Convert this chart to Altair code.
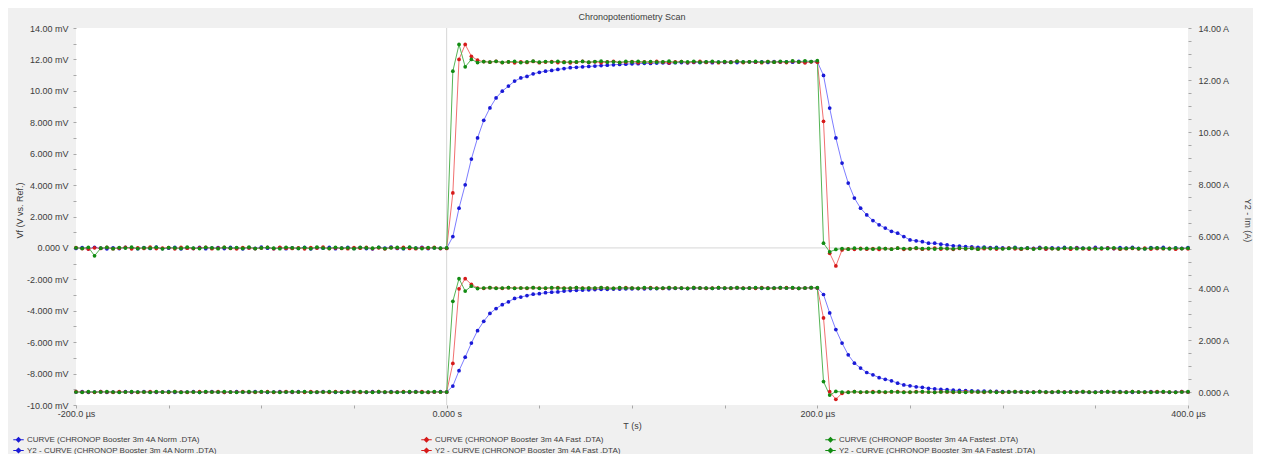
import altair as alt
import pandas as pd

# ---------------- data ----------------
T_START = -200.0          # first sample, µs
T_STEP = 10.0 / 3.0       # sampling interval, µs (181 samples to 400 µs)

SERIES = [
    "CURVE (CHRONOP Booster 3m 4A Norm .DTA)",
    "CURVE (CHRONOP Booster 3m 4A Fast .DTA)",
    "CURVE (CHRONOP Booster 3m 4A Fastest .DTA)",
    "Y2 - CURVE (CHRONOP Booster 3m 4A Norm .DTA)",
    "Y2 - CURVE (CHRONOP Booster 3m 4A Fast .DTA)",
    "Y2 - CURVE (CHRONOP Booster 3m 4A Fastest .DTA)",
]
LINE_KEYS = ["vn", "vf", "vx", "in", "if", "ix"]
POINT_COLORS = ["#1a1ad6", "#d61a1a", "#138c13", "#1a1ad6", "#d61a1a", "#138c13"]
LINE_COLORS = ["#7d7dff", "#f27070", "#55b455", "#7d7dff", "#f27070", "#55b455"]

# Vf in mV
V_NORM = [
    -0.03, 0.02, -0.05, 0.04, -0.02, -0.06, 0.01, -0.04, 0.03, -0.01,
    -0.05, 0.02, -0.03, 0.05, -0.04, -0.02, 0.03, -0.06, 0.00, -0.03,
    0.04, -0.05, -0.01, 0.02, -0.04, 0.03, -0.02, -0.06, 0.01, -0.03,
    0.05, -0.02, -0.04, 0.02, -0.05, 0.00, -0.03, 0.04, -0.06, 0.01,
    -0.02, 0.03, -0.05, -0.01, 0.04, -0.03, 0.02, -0.04, -0.06, 0.03,
    -0.01, 0.05, -0.03, -0.05, 0.02, -0.02, 0.04, -0.04, 0.01, -0.03,
    -0.02,
    0.72, 2.53, 4.02, 5.66, 7.00, 8.12, 8.91, 9.55, 9.98, 10.30,
    10.62, 10.82, 10.92, 11.08, 11.18, 11.25, 11.30, 11.36, 11.42, 11.47,
    11.50, 11.53, 11.55, 11.58, 11.61, 11.63, 11.66, 11.68, 11.70, 11.72,
    11.73, 11.75, 11.74, 11.77, 11.78, 11.76, 11.79, 11.80, 11.78, 11.81,
    11.80, 11.82, 11.79, 11.83, 11.81, 11.84, 11.80, 11.83, 11.85, 11.82,
    11.84, 11.81, 11.86, 11.83, 11.85, 11.82, 11.87, 11.84, 11.86, 11.85,
    10.98, 8.90, 7.00, 5.40, 4.13, 3.17, 2.53, 2.10, 1.74, 1.47,
    1.26, 1.06, 0.94, 0.72, 0.51, 0.45, 0.40, 0.30, 0.30, 0.24,
    0.19, 0.13, 0.12, 0.08, 0.06, 0.04, 0.05, 0.02, 0.03, 0.00,
    -0.02, 0.03, -0.04, 0.01, -0.03, 0.04, -0.05, 0.00, -0.02, 0.03,
    -0.04, 0.02, -0.01, -0.05, 0.03, -0.03, 0.01, -0.04, 0.02, -0.02,
    0.04, -0.03, -0.05, 0.02, -0.01, 0.03, -0.04, 0.00, -0.03, 0.02,
]
V_FAST = [
    0.02, -0.04, -0.07, 0.01, -0.03, 0.03, -0.05, -0.02, 0.04, -0.06,
    0.00, -0.03, 0.05, -0.04, -0.01, 0.02, -0.06, 0.03, -0.02, -0.04,
    0.01, 0.04, -0.05, -0.02, 0.03, -0.03, -0.06, 0.02, 0.00, -0.04,
    -0.01, 0.03, -0.05, 0.04, -0.02, -0.03, 0.01, -0.06, 0.02, -0.01,
    0.05, -0.04, 0.00, -0.03, -0.05, 0.02, -0.02, 0.03, -0.04, 0.01,
    -0.06, 0.02, -0.01, 0.04, -0.03, -0.05, 0.01, -0.02, 0.03, -0.04,
    -0.03,
    3.50, 12.00, 12.95, 12.20, 11.95, 11.86, 11.82, 11.88, 11.80, 11.84,
    11.78, 11.85, 11.81, 11.87, 11.79, 11.83, 11.86, 11.80, 11.84, 11.78,
    11.82, 11.87, 11.81, 11.85, 11.79, 11.84, 11.88, 11.80, 11.83, 11.86,
    11.79, 11.85, 11.81, 11.87, 11.82, 11.78, 11.84, 11.86, 11.80, 11.83,
    11.87, 11.81, 11.85, 11.79, 11.84, 11.82, 11.88, 11.80, 11.85, 11.83,
    11.79, 11.86, 11.82, 11.84, 11.80, 11.87, 11.83, 11.78, 11.85, 11.82,
    8.06, -0.34, -1.15, -0.13, -0.06, -0.09, -0.03, -0.08, -0.05, -0.10,
    -0.04, -0.07, -0.02, -0.09, -0.05, -0.03, -0.08, -0.06, -0.01, -0.07,
    -0.04, -0.09, -0.03, -0.06, -0.02, -0.08, -0.05, -0.03, -0.07, -0.04,
    -0.01, -0.06, -0.08, -0.03, -0.05, -0.02, -0.07, -0.04, -0.06, -0.03,
    -0.08, -0.02, -0.05, -0.07, -0.03, -0.06, -0.01, -0.04, -0.08, -0.05,
    -0.03, -0.06, -0.02, -0.07, -0.04, -0.05, -0.03, -0.08, -0.04, -0.06,
]
V_FASTEST = [
    0.01, -0.03, 0.04, -0.50, -0.02, 0.03, -0.05, 0.02, -0.01, 0.05,
    -0.04, 0.01, -0.02, 0.04, -0.06, 0.02, 0.00, -0.03, 0.05, -0.01,
    -0.04, 0.03, 0.01, -0.05, 0.04, -0.02, 0.02, -0.03, 0.05, -0.04,
    0.00, 0.03, -0.02, -0.05, 0.04, 0.01, -0.03, 0.02, -0.04, 0.05,
    -0.01, -0.03, 0.04, -0.02, 0.01, -0.05, 0.03, 0.00, -0.02, 0.04,
    -0.04, 0.01, 0.03, -0.03, 0.05, -0.01, -0.04, 0.02, 0.00, -0.02,
    0.00,
    11.25, 12.95, 11.53, 12.00, 11.80, 11.86, 11.83, 11.88, 11.81, 11.85,
    11.87, 11.80, 11.84, 11.89, 11.82, 11.86, 11.83, 11.88, 11.81, 11.85,
    11.84, 11.87, 11.82, 11.86, 11.89, 11.83, 11.85, 11.81, 11.87, 11.84,
    11.88, 11.82, 11.86, 11.83, 11.85, 11.89, 11.81, 11.86, 11.84, 11.88,
    11.82, 11.85, 11.87, 11.83, 11.86, 11.81, 11.88, 11.84, 11.85, 11.87,
    11.83, 11.86, 11.82, 11.88, 11.85, 11.90, 11.84, 11.91, 11.86, 11.92,
    0.30, -0.25, -0.10, -0.04, -0.08, -0.02, -0.06, -0.03, -0.07, -0.01,
    -0.05, -0.08, -0.02, -0.04, -0.06, 0.00, -0.05, -0.03, -0.07, -0.02,
    -0.04, -0.06, -0.01, -0.05, -0.03, -0.08, 0.01, -0.04, -0.02, -0.06,
    -0.03, 0.00, -0.05, -0.02, -0.07, -0.03, 0.01, -0.04, -0.06, -0.02,
    0.00, -0.05, -0.03, -0.01, -0.06, -0.02, -0.04, 0.01, -0.05, -0.03,
    -0.01, -0.04, -0.06, -0.02, 0.00, -0.03, -0.05, -0.01, -0.04, -0.02,
]

# Im in A
I_NORM = [
    0.00, 0.01, -0.01, 0.00, 0.01, -0.01, 0.00, 0.00, 0.01, -0.01,
    0.00, 0.01, 0.00, -0.01, 0.00, 0.01, -0.01, 0.00, 0.00, 0.01,
    -0.01, 0.00, 0.01, 0.00, -0.01, 0.00, 0.01, 0.00, -0.01, 0.01,
    0.00, -0.01, 0.00, 0.01, 0.00, -0.01, 0.01, 0.00, 0.00, -0.01,
    0.01, 0.00, -0.01, 0.00, 0.01, 0.00, 0.00, -0.01, 0.01, 0.00,
    -0.01, 0.01, 0.00, 0.00, -0.01, 0.01, 0.00, -0.01, 0.00, 0.01,
    0.00,
    0.23, 0.82, 1.34, 1.88, 2.36, 2.72, 3.02, 3.21, 3.36, 3.47,
    3.60, 3.65, 3.71, 3.76, 3.78, 3.82, 3.84, 3.85, 3.88, 3.90,
    3.91, 3.92, 3.93, 3.94, 3.95, 3.95, 3.96, 3.96, 3.97, 3.97,
    3.98, 3.97, 3.98, 3.98, 3.99, 3.98, 3.99, 3.99, 3.98, 3.99,
    4.00, 3.99, 3.99, 4.00, 3.99, 4.00, 4.00, 3.99, 4.00, 4.00,
    3.99, 4.00, 4.00, 4.01, 4.00, 4.00, 3.99, 4.00, 4.01, 4.00,
    3.75, 3.04, 2.40, 1.88, 1.43, 1.11, 0.92, 0.75, 0.66, 0.55,
    0.49, 0.43, 0.34, 0.27, 0.24, 0.20, 0.18, 0.14, 0.12, 0.10,
    0.09, 0.07, 0.06, 0.05, 0.04, 0.03, 0.03, 0.02, 0.02, 0.01,
    0.01, 0.00, 0.01, 0.00, 0.00, 0.01, 0.00, -0.01, 0.00, 0.00,
    0.01, 0.00, 0.00, -0.01, 0.00, 0.01, 0.00, 0.00, 0.01, 0.00,
    -0.01, 0.00, 0.00, 0.01, 0.00, 0.00, -0.01, 0.00, 0.01, 0.00,
]
I_FAST = [
    0.01, 0.00, 0.00, -0.01, 0.01, 0.00, -0.01, 0.01, 0.00, 0.00,
    -0.01, 0.00, 0.01, 0.00, 0.00, -0.01, 0.01, 0.00, -0.01, 0.00,
    0.01, 0.00, 0.00, 0.01, -0.01, 0.00, 0.00, 0.01, 0.00, -0.01,
    0.00, 0.01, -0.01, 0.00, 0.01, 0.00, 0.00, -0.01, 0.01, 0.00,
    0.00, -0.01, 0.01, 0.00, 0.00, 0.01, -0.01, 0.00, 0.00, 0.01,
    0.00, -0.01, 0.00, 0.01, 0.00, 0.00, 0.01, -0.01, 0.00, 0.00,
    0.00,
    1.10, 3.97, 4.36, 4.14, 4.00, 3.99, 4.01, 4.00, 3.99, 4.01,
    4.00, 4.00, 3.99, 4.01, 4.00, 3.99, 4.00, 4.01, 4.00, 3.99,
    4.01, 4.00, 4.00, 3.99, 4.01, 4.00, 3.99, 4.00, 4.01, 4.00,
    3.99, 4.00, 4.01, 4.00, 3.99, 4.01, 4.00, 4.00, 3.99, 4.01,
    4.00, 3.99, 4.00, 4.01, 4.00, 3.99, 4.01, 4.00, 4.00, 3.99,
    4.01, 4.00, 3.99, 4.00, 4.01, 4.00, 3.99, 4.00, 4.01, 4.00,
    2.85, 0.01, -0.28, -0.05, 0.00, 0.01, -0.01, 0.00, 0.01, 0.00,
    -0.01, 0.00, 0.01, 0.00, -0.01, 0.01, 0.00, 0.00, -0.01, 0.01,
    0.00, -0.01, 0.00, 0.01, 0.00, 0.00, -0.01, 0.01, 0.00, -0.01,
    0.00, 0.01, 0.00, -0.01, 0.00, 0.01, -0.01, 0.00, 0.01, 0.00,
    0.00, -0.01, 0.01, 0.00, -0.01, 0.00, 0.01, 0.00, -0.01, 0.00,
    0.01, 0.00, -0.01, 0.00, 0.01, 0.00, 0.00, -0.01, 0.01, 0.00,
]
I_FASTEST = [
    0.00, -0.01, 0.01, 0.00, 0.00, 0.01, 0.00, -0.01, 0.00, 0.01,
    0.00, 0.00, -0.01, 0.01, 0.00, 0.00, 0.01, -0.01, 0.00, 0.00,
    -0.01, 0.01, 0.00, 0.00, 0.01, 0.00, -0.01, 0.00, 0.01, 0.00,
    0.01, 0.00, 0.00, -0.01, 0.00, 0.01, 0.00, 0.01, -0.01, 0.00,
    0.00, 0.01, 0.00, -0.01, 0.00, 0.00, 0.01, 0.00, -0.01, 0.01,
    0.00, 0.00, -0.01, 0.00, 0.01, 0.00, -0.01, 0.00, 0.01, 0.00,
    0.00,
    3.49, 4.36, 3.88, 4.07, 3.98, 4.00, 4.01, 3.99, 4.00, 4.01,
    3.99, 4.00, 4.00, 4.01, 3.99, 4.00, 4.01, 4.00, 3.99, 4.00,
    4.01, 3.99, 4.00, 4.00, 4.01, 4.00, 3.99, 4.01, 4.00, 4.00,
    3.99, 4.01, 4.00, 3.99, 4.00, 4.01, 4.00, 4.00, 3.99, 4.01,
    4.00, 4.00, 3.99, 4.01, 4.00, 4.00, 4.01, 3.99, 4.00, 4.01,
    4.00, 3.99, 4.00, 4.01, 4.00, 4.01, 3.99, 4.00, 4.01, 4.01,
    0.40, -0.12, 0.02, 0.00, -0.01, 0.01, 0.00, 0.00, -0.01, 0.01,
    0.00, 0.01, 0.00, -0.01, 0.00, 0.00, 0.01, 0.00, -0.01, 0.00,
    0.01, 0.00, 0.00, -0.01, 0.01, 0.00, 0.00, 0.01, -0.01, 0.00,
    0.00, 0.01, 0.00, 0.00, -0.01, 0.01, 0.00, 0.00, 0.01, -0.01,
    0.00, 0.00, 0.01, 0.00, -0.01, 0.00, 0.01, 0.00, 0.00, -0.01,
    0.01, 0.00, 0.00, -0.01, 0.00, 0.01, 0.00, -0.01, 0.00, 0.01,
]

ZERO = [0.0]
X_TICKS = [-200, -150, -100, -50, 0, 50, 100, 150, 200, 250, 300, 350, 400]
LEFT_TICKS = [-10, -9, -8, -7, -6, -5, -4, -3, -2, -1, 0, 1, 2, 3, 4, 5, 6, 7,
              8, 9, 10, 11, 12, 13, 14]
RIGHT_TICKS = [0, 0.5, 1, 1.5, 2, 2.5, 3, 3.5, 4, 4.5, 5, 5.5, 6, 6.5, 7, 7.5,
               8, 8.5, 9, 9.5, 10, 10.5, 11, 11.5, 12, 12.5, 13, 13.5, 14]

# ---------------- table ----------------
rows = []
for name, key, vals, kind in zip(SERIES, LINE_KEYS,
                                 [V_NORM, V_FAST, V_FASTEST, I_NORM, I_FAST, I_FASTEST],
                                 ["V", "V", "V", "I", "I", "I"]):
    for i, v in enumerate(vals):
        rows.append({"t": T_START + i * T_STEP, "value": v, "series": name,
                     "key": key, "kind": kind})
df = pd.DataFrame(rows)
v_df = df[df["kind"] == "V"]
i_df = df[df["kind"] == "I"]
zero_df = pd.DataFrame({"z": ZERO})

FONT = "Liberation Sans"
TXT = "#3c3c3c"

x_scale = alt.Scale(domain=[-200, 400], nice=False, zero=False)
x_axis = alt.Axis(
    values=X_TICKS, title="T (s)", labelOverlap=False, labelFlush=False,
    labelPadding=1,
    labelExpr="datum.value == 0 ? '0.000 s' : (datum.value % 200 == 0 ? "
              "(datum.value < 0 ? '-' : '') + format(abs(datum.value), '.1f') + ' µs' : '')",
    titleX=556, titleY=20, titleBaseline="middle",
)
yv_scale = alt.Scale(domain=[-10, 14], nice=False, zero=False)
yv_axis = alt.Axis(
    values=LEFT_TICKS, title="Vf (V vs. Ref.)", labelOverlap=False, labelPadding=5,
    labelExpr="datum.value % 2 != 0 ? '' : (datum.value == 0 ? '0.000 V' : "
              "(datum.value < 0 ? '-' : '') + format(abs(datum.value), "
              "abs(datum.value) >= 10 ? '.2f' : '.3f') + ' mV')",
    titleX=-57, titleY=182, titleBaseline="middle",
)
yi_scale = alt.Scale(domain=[-0.5, 14], nice=False, zero=False)
yi_axis = alt.Axis(
    orient="right", values=RIGHT_TICKS, title="Y2 - Im (A)", labelOverlap=False,
    labelPadding=7,
    labelExpr="datum.value % 2 != 0 ? '' : format(datum.value, "
              "datum.value >= 10 ? '.2f' : '.3f') + ' A'",
    titleX=59, titleY=192, titleBaseline="middle",
)

stroke_scale = alt.Scale(domain=LINE_KEYS, range=LINE_COLORS)
color_scale = alt.Scale(domain=SERIES, range=POINT_COLORS)
LEGEND_SYMBOL = "M-0.95,-0.09L0.95,-0.09L0.95,0.09L-0.95,0.09Z M0,-0.55L0.55,0L0,0.55L-0.55,0Z"
legend = alt.Legend(
    title=None, orient="none", legendX=-63, legendY=406, columns=3,
    direction="horizontal",
    symbolType=LEGEND_SYMBOL, symbolSize=121, symbolStrokeWidth=0,
    labelFont=FONT, labelFontSize=8, labelColor=TXT, labelOffset=3,
    labelLimit=400, columnPadding=204, rowPadding=1,
)

xenc = alt.X("t:Q", scale=x_scale, axis=x_axis)

rule_x = alt.Chart(zero_df).mark_rule(color="#d6d6d6", strokeWidth=1).encode(
    x=alt.X("z:Q", scale=x_scale, axis=x_axis))
rule_y = alt.Chart(zero_df).mark_rule(color="#d6d6d6", strokeWidth=1).encode(
    y=alt.Y("z:Q", scale=yv_scale, axis=yv_axis))

v_line = alt.Chart(v_df).mark_line(strokeWidth=1).encode(
    x=xenc, y=alt.Y("value:Q", scale=yv_scale, axis=yv_axis),
    stroke=alt.Stroke("key:N", scale=stroke_scale, legend=None))
v_pts = alt.Chart(v_df).mark_point(filled=True, size=14, opacity=1, shape="circle").encode(
    x=xenc, y=alt.Y("value:Q", scale=yv_scale, axis=yv_axis),
    color=alt.Color("series:N", scale=color_scale, legend=legend))

i_line = alt.Chart(i_df).mark_line(strokeWidth=1).encode(
    x=xenc, y=alt.Y("value:Q", scale=yi_scale, axis=yi_axis),
    stroke=alt.Stroke("key:N", scale=stroke_scale, legend=None))
i_pts = alt.Chart(i_df).mark_point(filled=True, size=14, opacity=1, shape="circle").encode(
    x=xenc, y=alt.Y("value:Q", scale=yi_scale, axis=yi_axis),
    color=alt.Color("series:N", scale=color_scale, legend=legend))

chart = alt.layer(
    alt.layer(rule_x, rule_y, v_line, v_pts),
    alt.layer(i_line, i_pts),
).resolve_scale(y="independent").properties(
    width=1112, height=377,
    padding={"left": 68, "top": 20, "right": 65, "bottom": 49},
    autosize=alt.AutoSizeParams(type="none"),
    title=alt.TitleParams("Chronopotentiometry Scan", fontSize=9, fontWeight="normal",
                          color=TXT, anchor="middle", offset=2, font=FONT),
).configure(
    background="#f0f0f0", font=FONT,
).configure_view(
    fill="white", stroke=None,
).configure_axis(
    labelFont=FONT, labelFontSize=9, labelColor=TXT, tickColor="#a8a8a8",
    tickSize=3, domain=False, grid=False, titleFont=FONT, titleFontSize=9,
    titleFontWeight="normal", titleColor=TXT,
)

chart.save("out.html", embed_options={"renderer": "svg", "actions": False})
